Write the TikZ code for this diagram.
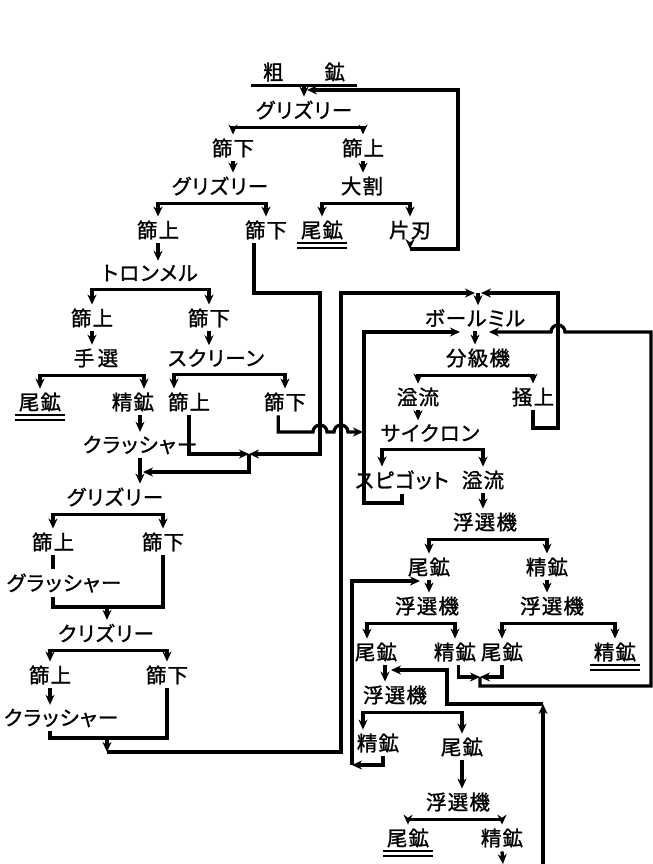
\documentclass[tikz,border=0pt]{standalone}
\usepackage{fontspec}
\usepackage{tikz}
\usetikzlibrary{positioning}
\usetikzlibrary{arrows.meta,calc}
\newfontfamily\jpfont[RawFeature=+palt,LetterSpace=6,FakeBold=1.2]{Noto Sans CJK JP}
\pgfkeys{tikz/myflowenv/.style={x=0.03cm,y=-0.03cm,line width=2.8pt,every node/.style={font=\jpfont\fontsize{17.5pt}{20pt}\selectfont,inner sep=2pt}}}
\pgfkeys{tikz/myarrow/.style={-{Stealth[length=3mm,width=2.7mm]}}}
\pgfkeys{tikz/myarrowboth/.style={{Stealth[length=3mm,width=2.7mm]}-{Stealth[length=3mm,width=2.7mm]}}}
\pgfkeys{tikz/myunder/.style={line width=1.6pt}}
\newcommand*\mybranch[3]{
\draw[myarrowboth] (#2) |- ([yshift=-1.2mm]#1.south) -| (#3);
}
\newcommand*\mystep[2]{
\draw[myarrow] (#1.south) -- (#1.south |- #2.north);
}
\newcommand*\myunderlinetwo[1]{
\draw[myunder] (#1.south west) -- (#1.south east);
\draw[myunder] ([yshift=-1.3mm]#1.south west) -- ([yshift=-1.3mm]#1.south east);
}

\begin{document}
\begin{tikzpicture}[myflowenv]
\useasboundingbox (0,0) rectangle (653,864);

% crushing and screening
\node[minimum width=3.06cm] (ore) at (304,72) {粗\hspace{2em}鉱};
\draw (ore.south west) -- (ore.south east);
\node (grz-1) at (304,110) {グリズリー};
\node (sieve-1) at (233,148) {篩下};
\node (sieve-2) at (363,148) {篩上};
\node (grz-2) at (220,186) {グリズリー};
\node (split) at (362,186) {大割};
\node (sieve-3) at (158,230) {篩上};
\node (sieve-4) at (266,230) {篩下};
\node (tail-1) at (322,230) {尾鉱};
\node (blade) at (410,230) {片刃};
\node (tron) at (150,273) {トロンメル};
\node (sieve-5) at (92,318) {篩上};
\node (sieve-6) at (209,318) {篩下};
\node (hand) at (96,358) {手\,選};
\node (scrn) at (216,358) {スクリーン};
\node (tail-2) at (40,402) {尾鉱};
\node (conc-1) at (133,402) {精鉱};
\node (sieve-7) at (189,402) {篩上};
\node (sieve-8) at (285,402) {篩下};
\node (crush-1) at (140,445) {クラッシャー};
\node (grz-3) at (115,497) {グリズリー};
\node (sieve-9) at (53,542) {篩上};
\node (sieve-10) at (163,542) {篩下};
\node (crush-2) at (64,583) {グラッシャー};
\node (grz-4) at (106,633) {クリズリー};
\node (sieve-11) at (50,675) {篩上};
\node (sieve-12) at (167,675) {篩下};
\node (crush-3) at (61,718) {クラッシャー};

% grinding and flotation
\node (mill) at (475,318) {ボールミル};
\node (cls) at (478,358) {分級機};
\node (ovf-1) at (418,397) {溢流};
\node (rake) at (533,397) {掻上};
\node (cyc) at (430,433) {サイクロン};
\node (spig) at (402,480) {スピゴット};
\node (ovf-2) at (483,480) {溢流};
\node (flot-1) at (485,522) {浮選機};
\node (tail-3) at (429,567) {尾鉱};
\node (conc-2) at (547,567) {精鉱};
\node (flot-2) at (427,606) {浮選機};
\node (flot-3) at (552,606) {浮選機};
\node (tail-4) at (376,652) {尾鉱};
\node (conc-3) at (455,652) {精鉱};
\node (tail-5) at (502,652) {尾鉱};
\node (conc-4) at (615,652) {精鉱};
\node (flot-4) at (395,695) {浮選機};
\node (conc-5) at (378,743) {精鉱};
\node (tail-6) at (462,747) {尾鉱};
\node (flot-5) at (458,802) {浮選機};
\node (tail-7) at (408,838) {尾鉱};
\node (conc-6) at (502,838) {精鉱};

\myunderlinetwo{tail-1}
\myunderlinetwo{tail-2}
\myunderlinetwo{conc-4}
\myunderlinetwo{tail-7}

\coordinate (in-1) at (307,90);
\coordinate (loop-1) at (458,249);
\coordinate (jn-1) at (249,454);
\coordinate (jn-1b) at (143,472);
\coordinate (jn-2) at (107,607);
\coordinate (jn-3) at (107,738);
\coordinate (jn-3b) at (107,752);
\coordinate (jn-4) at (478,293);
\coordinate (jn-5) at (480,677);
\coordinate (lp-2) at (352,765);
\coordinate (bot-1) at (543,864);
\coordinate (bot-2) at (543,704);
\coordinate (bot-3) at (503,864);

\mystep{ore}{grz-1}
\mybranch{grz-1}{sieve-1.north}{sieve-2.north}
\mystep{sieve-1}{grz-2}
\mystep{sieve-2}{split}
\mybranch{grz-2}{sieve-3.north}{sieve-4.north}
\mybranch{split}{tail-1.north}{blade.north}
\draw[myarrow] (blade.south) -- (blade.south |- loop-1);
\draw[myarrow] (blade.south |- loop-1) -- (loop-1) |- (in-1);
\mystep{sieve-3}{tron}
\mybranch{tron}{sieve-5.north}{sieve-6.north}
\mystep{sieve-5}{hand}
\mystep{sieve-6}{scrn}
\mybranch{hand}{tail-2.north}{[xshift=0.33cm]conc-1.north}
\mybranch{scrn}{[xshift=-0.45cm]sieve-7.north}{sieve-8.north}
\draw[myarrow] (crush-1.north |- conc-1.south) -- (crush-1.north);
\draw[myarrow] ([xshift=-0.36cm]sieve-4.south) |- (320,293) -- (320,454) -- (jn-1);
\draw[myarrow] (sieve-7.south) |- (jn-1);
\draw[myarrow] (jn-1) |- (jn-1b);
\draw[myarrow] ([xshift=-0.2cm]sieve-8.south) |- (313,432)
  arc[start angle=180,end angle=0,radius=0.21cm] -- (334,432)
  arc[start angle=180,end angle=0,radius=0.21cm] -- (363,432);
\mystep{crush-1}{grz-3}
\mybranch{grz-3}{sieve-9.north}{sieve-10.north}
\draw (sieve-9.south) -- (sieve-9.south |- crush-2.north);
\draw (crush-2.south -| sieve-9.south) |- (jn-2) -| (sieve-10.south);
\draw[myarrow] (jn-2) -- (jn-2 |- grz-4.north);
\mybranch{grz-4}{sieve-11.north}{sieve-12.north}
\draw[myarrow] (sieve-11.south) -- (sieve-11.south |- crush-3.north);
\draw (crush-3.south -| sieve-11.south) |- (jn-3) -| (sieve-12.south);
\draw[myarrow] (jn-3) -- (jn-3b);
\draw[myarrow] (jn-3b) -| (341,293) -- (475,293);

\draw[myarrow] (rake.south) |- (558,428) -- (558,293) -- (481,293);
\draw[myarrow] (jn-4) -- (jn-4 |- mill.north);
\mystep{mill}{cls}
\mybranch{cls}{ovf-1.north}{rake.north}
\mystep{ovf-1}{cyc}
\mybranch{cyc}{[xshift=-0.6cm]spig.north}{ovf-2.north}
\draw[myarrow] (spig.south) |- (364,503) |- (460,332);
\mystep{ovf-2}{flot-1}
\mybranch{flot-1}{tail-3.north}{conc-2.north}
\mystep{tail-3}{flot-2}
\mystep{conc-2}{flot-3}
\mybranch{flot-2}{[xshift=-0.27cm]tail-4.north}{conc-3.north}
\mybranch{flot-3}{tail-5.north}{conc-4.north}
\draw[myarrow] ([xshift=0.1cm]conc-3.south) |- (jn-5);
\draw[myarrow] (tail-5.south) |- (jn-5);
\draw[myarrow] (jn-5) |- (651,686) -- (651,332) -- (565,332)
  arc[start angle=0,end angle=180,radius=0.21cm] -- (489,332);
\draw[myarrow] ([xshift=0.27cm]tail-4.south) -- ([xshift=0.27cm]tail-4.south |- flot-4.north);
\draw[myarrow] (bot-1) -- (bot-2);
\draw[myarrow] (bot-2) -| (447,670) -- (391,670);
\mybranch{flot-4}{[xshift=-0.45cm]conc-5.north}{tail-6.north}
\draw[myarrow] ([xshift=0.15cm]conc-5.south) |- (lp-2);
\draw[myarrow] (lp-2) |- (420,581);
\mystep{tail-6}{flot-5}
\mybranch{flot-5}{tail-7.north}{conc-6.north}
\draw[myarrow] (conc-6.south) -- (bot-3);

\end{tikzpicture}
\end{document}
